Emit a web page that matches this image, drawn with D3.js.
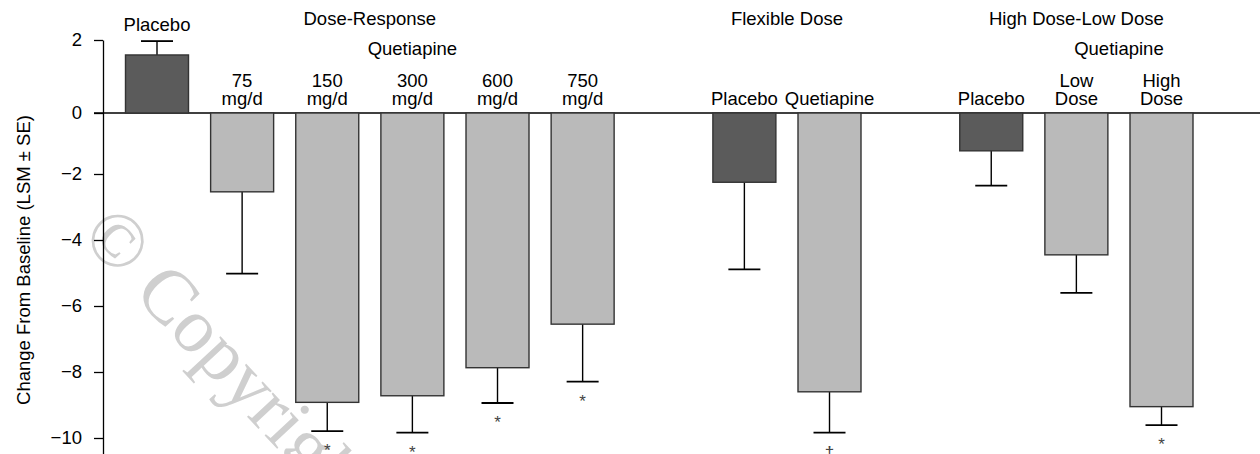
<!DOCTYPE html>
<html>
<head>
<meta charset="utf-8">
<script src="https://cdn.jsdelivr.net/npm/d3@7"></script>
<style>
  body { margin: 0; background: #fff; }
  text { font-family: "Liberation Sans", Arial, sans-serif; }
</style>
</head>
<body>
<svg id="chart" width="1260" height="454"></svg>
<script>
// study groups and bars
const groups = ["Dose-Response", "Flexible Dose", "High Dose-Low Dose"];
const barGroup = [0, 0, 0, 0, 0, 0, 1, 1, 2, 2, 2];
const barLabels = [
    ["Placebo"], ["75", "mg/d"], ["150", "mg/d"], ["300", "mg/d"], ["600", "mg/d"], ["750", "mg/d"],
    ["Placebo"], ["Quetiapine"],
    ["Placebo"], ["Low", "Dose"], ["High", "Dose"]
];
const placebo = [true, false, false, false, false, false, true, false, true, false, false];
const lsm = [1.59, -2.54, -8.92, -8.72, -7.87, -6.55, -2.25, -8.60, -1.24, -4.45, -9.05];
const se  = [0.38, 2.48, 0.87, 1.12, 1.07, 1.74, 2.64, 1.24, 1.11, 1.15, 0.56];
const signif = ["", "", "*", "*", "*", "*", "", "\u2020", "", "", "*"];
// "Quetiapine" headers over a run of bars [first, last]
const subHeaders = [["Quetiapine", 1, 5], ["Quetiapine", 9, 10]];
const yTicks = [2, 0, -2, -4, -6, -8, -10];
const yTitle = "Change From Baseline (LSM \u00b1 SE)";

const svg = d3.select("#chart");
const fs = 18.5;
const barW = 63;

// slot positions: bars within a group are adjacent, groups separated by a gap
const gapSlots = 0.9;
const slot = barGroup.map((g, i) => i + g * gapSlots);
const x = d3.scaleLinear().domain([0, d3.max(slot)]).range([157, 1161.5]);

// the printed axis is not quite uniform, so use a piecewise scale
const y = d3.scaleLinear().domain([2, 0, -2, -10.5]).range([40, 113, 174, 454.5]);

// watermark, behind everything
svg.append("text")
    .attr("transform", "translate(118,240) rotate(47)")
    .attr("x", -29).attr("y", 26)
    .style("font-family", "'Liberation Serif', 'DejaVu Serif', serif")
    .style("font-size", "77px")
    .style("fill", "#cfcfcf")
    .text("\u00a9 Copyright");

// zero line
svg.append("line")
    .attr("x1", 94).attr("x2", 1260)
    .attr("y1", y(0)).attr("y2", y(0))
    .attr("stroke", "#000").attr("stroke-width", 1.3);

// y axis
const yAxis = svg.append("g")
    .attr("transform", "translate(103,0)")
    .call(d3.axisLeft(y).tickValues(yTicks).tickSize(9).tickSizeOuter(0).tickPadding(12));
yAxis.select(".domain").attr("stroke-width", 1.3);
yAxis.selectAll(".tick line").attr("stroke-width", 1.3);
yAxis.selectAll(".tick text")
    .style("font-family", "'Liberation Sans', Arial, sans-serif")
    .style("font-size", fs + "px")
    .attr("fill", "#000");

svg.append("text")
    .attr("transform", "translate(30,260) rotate(-90)")
    .attr("text-anchor", "middle")
    .style("font-size", fs + "px")
    .text(yTitle);

const idx = d3.range(lsm.length);

// error bars (one-sided, away from zero)
const err = svg.append("g").attr("stroke", "#000").attr("stroke-width", 1.4);
idx.forEach(i => {
    const cx = x(slot[i]);
    const end = lsm[i] >= 0 ? lsm[i] + se[i] : lsm[i] - se[i];
    err.append("line").attr("x1", cx).attr("x2", cx).attr("y1", y(lsm[i])).attr("y2", y(end));
    err.append("line").attr("x1", cx - 16).attr("x2", cx + 16).attr("y1", y(end)).attr("y2", y(end))
        .attr("stroke-width", 1.8);
});

// bars
svg.append("g").selectAll("rect")
    .data(idx)
    .join("rect")
    .attr("x", i => x(slot[i]) - barW / 2)
    .attr("width", barW)
    .attr("y", i => Math.min(y(0), y(lsm[i])))
    .attr("height", i => Math.abs(y(lsm[i]) - y(0)))
    .attr("fill", i => placebo[i] ? "#5b5b5b" : "#bababa")
    .attr("stroke", "#333")
    .attr("stroke-width", 1.4);

// significance marks
svg.append("g").selectAll("text")
    .data(idx.filter(i => signif[i]))
    .join("text")
    .attr("x", i => x(slot[i]))
    .attr("y", i => y(lsm[i] - se[i]) + 25)
    .attr("text-anchor", "middle")
    .style("font-size", "17px")
    .attr("fill", "#444")
    .text(i => signif[i]);

// bar labels
idx.forEach(i => {
    const lines = barLabels[i];
    const base = lsm[i] > 0 ? y(lsm[i] + se[i]) - 10 : y(0) - 8;
    const t = svg.append("text")
        .attr("text-anchor", "middle")
        .style("font-size", fs + "px");
    lines.forEach((l, k) => {
        t.append("tspan")
            .attr("x", x(slot[i]))
            .attr("y", base - (lines.length - 1 - k) * 18.5)
            .text(l);
    });
});

// group titles
groups.forEach((g, gi) => {
    const members = idx.filter(i => barGroup[i] === gi);
    const cx = (x(slot[members[0]]) + x(slot[members[members.length - 1]])) / 2;
    svg.append("text")
        .attr("x", cx).attr("y", 25)
        .attr("text-anchor", "middle")
        .style("font-size", fs + "px")
        .text(g);
});

subHeaders.forEach(([name, a, b]) => {
    svg.append("text")
        .attr("x", (x(slot[a]) + x(slot[b])) / 2).attr("y", 55)
        .attr("text-anchor", "middle")
        .style("font-size", fs + "px")
        .text(name);
});
</script>
</body>
</html>
